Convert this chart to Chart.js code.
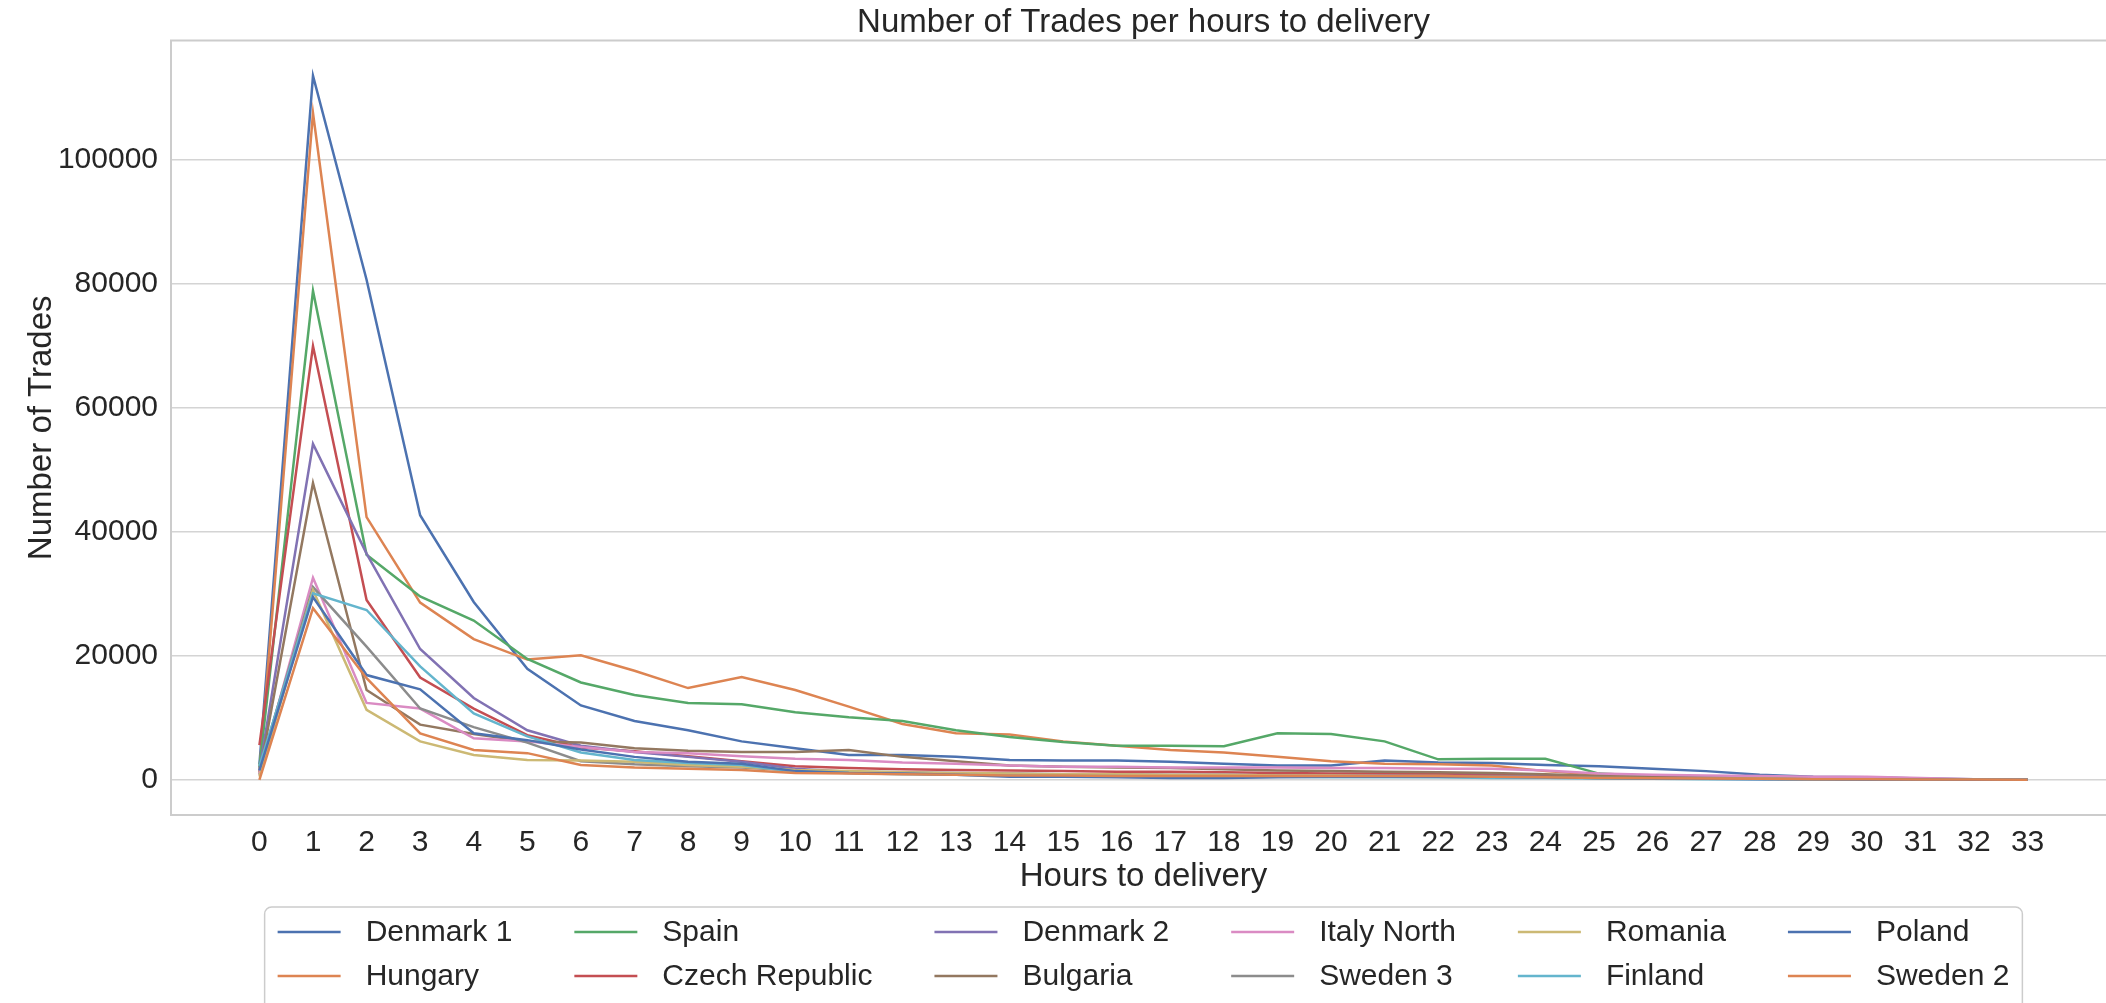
<!DOCTYPE html>
<html>
<head>
<meta charset="utf-8">
<title>Number of Trades per hours to delivery</title>
<script src="https://cdn.jsdelivr.net/npm/chart.js@4.4.1/dist/chart.umd.min.js"></script>
<style>
  html, body { margin: 0; padding: 0; background: #fff; overflow: hidden; }
  #chart { display: block; }
</style>
</head>
<body>
<canvas id="chart" width="2116" height="1003"></canvas>
<script>
// Hours to delivery (x axis)
const hours = [0, 1, 2, 3, 4, 5, 6, 7, 8, 9, 10, 11, 12, 13, 14, 15, 16, 17, 18, 19, 20, 21, 22, 23, 24, 25, 26, 27, 28, 29, 30, 31, 32, 33];

// Number of trades per market area
const denmark1 = [2500, 113600, 80700, 42700, 28700, 17900, 12000, 9500, 8000, 6200, 5100, 4000, 4000, 3700, 3200, 3100, 3100, 2900, 2600, 2300, 2300, 3100, 2800, 2700, 2400, 2200, 1800, 1400, 800, 500, 400, 200, 100, 0];
const hungary = [1200, 107600, 42400, 28600, 22700, 19400, 20100, 17600, 14800, 16600, 14500, 11800, 9000, 7500, 7300, 6200, 5500, 4800, 4400, 3700, 3000, 2600, 2500, 2300, 1400, 800, 600, 500, 400, 300, 200, 100, 50, 0];
const spain = [2000, 78900, 36300, 29600, 25700, 19500, 15700, 13700, 12400, 12200, 10900, 10100, 9500, 8000, 6900, 6100, 5500, 5500, 5400, 7500, 7400, 6200, 3300, 3400, 3400, 1000, 600, 400, 300, 200, 150, 100, 50, 0];
const czechRepublic = [5600, 70000, 29000, 16500, 11500, 7200, 5200, 4600, 3800, 3000, 2200, 1900, 1700, 1600, 1500, 1400, 1300, 1300, 1200, 1100, 1000, 1000, 900, 900, 700, 500, 400, 300, 250, 200, 150, 100, 50, 0];
const denmark2 = [1500, 54200, 36500, 21100, 13200, 8000, 5500, 4500, 3700, 2900, 1800, 1300, 1200, 1100, 1000, 900, 900, 800, 800, 700, 700, 700, 600, 600, 500, 400, 300, 250, 200, 150, 100, 80, 50, 0];
const bulgaria = [800, 47900, 14500, 8900, 7400, 6200, 6000, 5100, 4700, 4500, 4500, 4800, 3700, 3000, 2300, 2100, 2000, 1900, 1700, 1500, 1400, 1300, 1200, 1100, 900, 600, 400, 300, 200, 150, 100, 80, 50, 0];
const italyNorth = [1000, 32600, 12400, 11500, 6700, 6200, 5300, 4500, 4300, 3800, 3400, 3200, 2800, 2600, 2300, 2100, 2100, 2000, 2000, 2000, 1900, 1900, 1800, 1800, 1500, 1000, 800, 700, 600, 500, 500, 300, 100, 0];
const sweden3 = [1800, 31100, 21500, 11500, 8500, 6000, 3000, 2500, 2200, 2000, 1500, 1200, 1000, 900, 800, 700, 700, 600, 600, 500, 500, 500, 450, 400, 350, 300, 250, 200, 150, 100, 80, 50, 30, 0];
const romania = [500, 30600, 11300, 6200, 4000, 3200, 3100, 2900, 2400, 2100, 1600, 1400, 1200, 1100, 1000, 900, 900, 800, 800, 700, 700, 600, 600, 500, 400, 300, 250, 200, 150, 100, 80, 50, 30, 0];
const finland = [2200, 30100, 27400, 18300, 10700, 7000, 4400, 3200, 2700, 2400, 1300, 1100, 900, 800, 700, 600, 600, 500, 500, 500, 400, 400, 400, 300, 300, 200, 150, 100, 80, 50, 30, 20, 10, 0];
const poland = [1500, 29500, 16900, 14600, 7500, 6400, 4900, 3700, 2900, 2600, 1400, 1100, 1000, 800, 500, 500, 400, 300, 300, 400, 500, 500, 500, 500, 400, 300, 200, 150, 100, 80, 50, 30, 20, 0];
const sweden2 = [0, 27700, 16400, 7500, 4800, 4300, 2400, 2000, 1800, 1600, 1100, 1000, 900, 800, 700, 700, 600, 600, 600, 600, 600, 600, 600, 500, 400, 300, 250, 200, 150, 100, 80, 50, 30, 0];

const seriesNames = ['Denmark 1', 'Hungary', 'Spain', 'Czech Republic', 'Denmark 2', 'Bulgaria',
                     'Italy North', 'Sweden 3', 'Romania', 'Finland', 'Poland', 'Sweden 2'];
const seriesValues = [denmark1, hungary, spain, czechRepublic, denmark2, bulgaria,
                      italyNorth, sweden3, romania, finland, poland, sweden2];

// y tick labels
const yTickLabels = ['0', '20000', '40000', '60000', '80000', '100000'];

// seaborn "deep" palette, cycles after 10 colours
const palette = ['#4C72B0', '#DD8452', '#55A868', '#C44E52', '#8172B3',
                 '#937860', '#DA8BC3', '#8C8C8C', '#CCB974', '#64B5CD'];

const FONT = '"Liberation Sans", Arial, Helvetica, sans-serif';
const TEXT = '#262626';
const SPINE = '#cccccc';

// axes frame (left, top, bottom spines)
const spines = {
    id: 'spines',
    afterDatasetsDraw(chart) {
        const { ctx, chartArea: a } = chart;
        ctx.save();
        ctx.strokeStyle = SPINE;
        ctx.lineWidth = 2;
        ctx.beginPath();
        ctx.moveTo(a.right + 2, a.top);
        ctx.lineTo(a.left, a.top);
        ctx.lineTo(a.left, a.bottom);
        ctx.lineTo(a.right + 2, a.bottom);
        ctx.stroke();
        ctx.restore();
    }
};

// legend laid out like matplotlib: 6 columns, filled top to bottom
const gridLegend = {
    id: 'gridLegend',
    afterDraw(chart) {
        const ctx = chart.ctx;
        const rows = 2, cols = 6;
        const handle = 63, handleGap = 25, colGap = 62, pad = 13;
        const top = 907, rowY = [932, 976];

        ctx.save();
        ctx.font = '30px ' + FONT;
        const colW = [];
        for (let c = 0; c < cols; c++) {
            let w = 0;
            for (let r = 0; r < rows; r++) {
                const i = c * rows + r;
                if (i < seriesNames.length) w = Math.max(w, ctx.measureText(seriesNames[i]).width);
            }
            colW.push(w);
        }
        const total = colW.reduce((s, w) => s + handle + handleGap + w, 0) + colGap * (cols - 1);
        const cx = chart.scales.x.getPixelForValue((hours[0] + hours[hours.length - 1]) / 2);
        const left = cx - total / 2;

        // frame
        ctx.beginPath();
        ctx.roundRect(left - pad, top, total + pad * 2, 140, 7);
        ctx.fillStyle = 'rgba(255,255,255,0.8)';
        ctx.fill();
        ctx.strokeStyle = SPINE;
        ctx.lineWidth = 1.5;
        ctx.stroke();

        let x = left;
        for (let c = 0; c < cols; c++) {
            for (let r = 0; r < rows; r++) {
                const i = c * rows + r;
                if (i >= seriesNames.length) continue;
                ctx.strokeStyle = palette[i % palette.length];
                ctx.lineWidth = 2.5;
                ctx.beginPath();
                ctx.moveTo(x, rowY[r]);
                ctx.lineTo(x + handle, rowY[r]);
                ctx.stroke();
                ctx.fillStyle = TEXT;
                ctx.textBaseline = 'middle';
                ctx.textAlign = 'left';
                ctx.fillText(seriesNames[i], x + handle + handleGap, rowY[r] + 1);
            }
            x += handle + handleGap + colW[c] + colGap;
        }
        ctx.restore();
    }
};

const datasets = seriesNames.map((name, i) => ({
    label: name,
    data: hours.map((h, j) => ({ x: h, y: seriesValues[i][j] })),
    borderColor: palette[i % palette.length],
    backgroundColor: palette[i % palette.length],
    borderWidth: 2.5,
    pointRadius: 0,
    tension: 0,
    fill: false,
    // matplotlib draws later series on top
    order: seriesNames.length - i
}));

const xMin = hours[0] - 0.05 * (hours[hours.length - 1] - hours[0]);
const xMax = hours[hours.length - 1] + 0.05 * (hours[hours.length - 1] - hours[0]);
const yMax = Math.max(...seriesValues.flat());

new Chart(document.getElementById('chart').getContext('2d'), {
    type: 'line',
    data: { datasets: datasets },
    options: {
        responsive: false,
        animation: false,
        events: [],
        layout: { padding: { left: 0, right: 0, top: 0, bottom: 103 } },
        plugins: {
            legend: { display: false },
            tooltip: { enabled: false },
            title: {
                display: true,
                fullSize: false,
                text: 'Number of Trades per hours to delivery',
                color: TEXT,
                font: { family: FONT, size: 33, weight: 'normal', lineHeight: 1.2 },
                padding: { top: 3, bottom: -2 }
            }
        },
        scales: {
            x: {
                type: 'linear',
                min: xMin,
                max: xMax,
                afterFit(scale) { scale.height = 85; },
                afterBuildTicks(scale) {
                    scale.ticks = hours.map(h => ({ value: h }));
                },
                ticks: {
                    includeBounds: false,
                    autoSkip: false,
                    maxRotation: 0,
                    padding: 10,
                    color: TEXT,
                    font: { family: FONT, size: 30 },
                    callback: (v) => String(v)
                },
                grid: { display: false, drawTicks: false },
                border: { display: false },
                title: {
                    display: true,
                    text: 'Hours to delivery',
                    color: TEXT,
                    font: { family: FONT, size: 33 },
                    padding: { top: 0, bottom: 3 }
                }
            },
            y: {
                type: 'linear',
                min: -0.05 * yMax,
                max: yMax * 1.05,
                afterFit(scale) { scale.width = 171; },
                afterBuildTicks(scale) {
                    scale.ticks = yTickLabels.map(t => ({ value: Number(t) }));
                },
                ticks: {
                    includeBounds: false,
                    padding: 13,
                    color: TEXT,
                    font: { family: FONT, size: 30 },
                    callback: (v) => String(v)
                },
                grid: { color: '#d4d4d4', lineWidth: 1.6, drawTicks: false },
                border: { display: false },
                title: {
                    display: true,
                    text: 'Number of Trades',
                    color: TEXT,
                    font: { family: FONT, size: 33 },
                    padding: { top: 22, bottom: 0 }
                }
            }
        }
    },
    plugins: [spines, gridLegend]
});
</script>
</body>
</html>
